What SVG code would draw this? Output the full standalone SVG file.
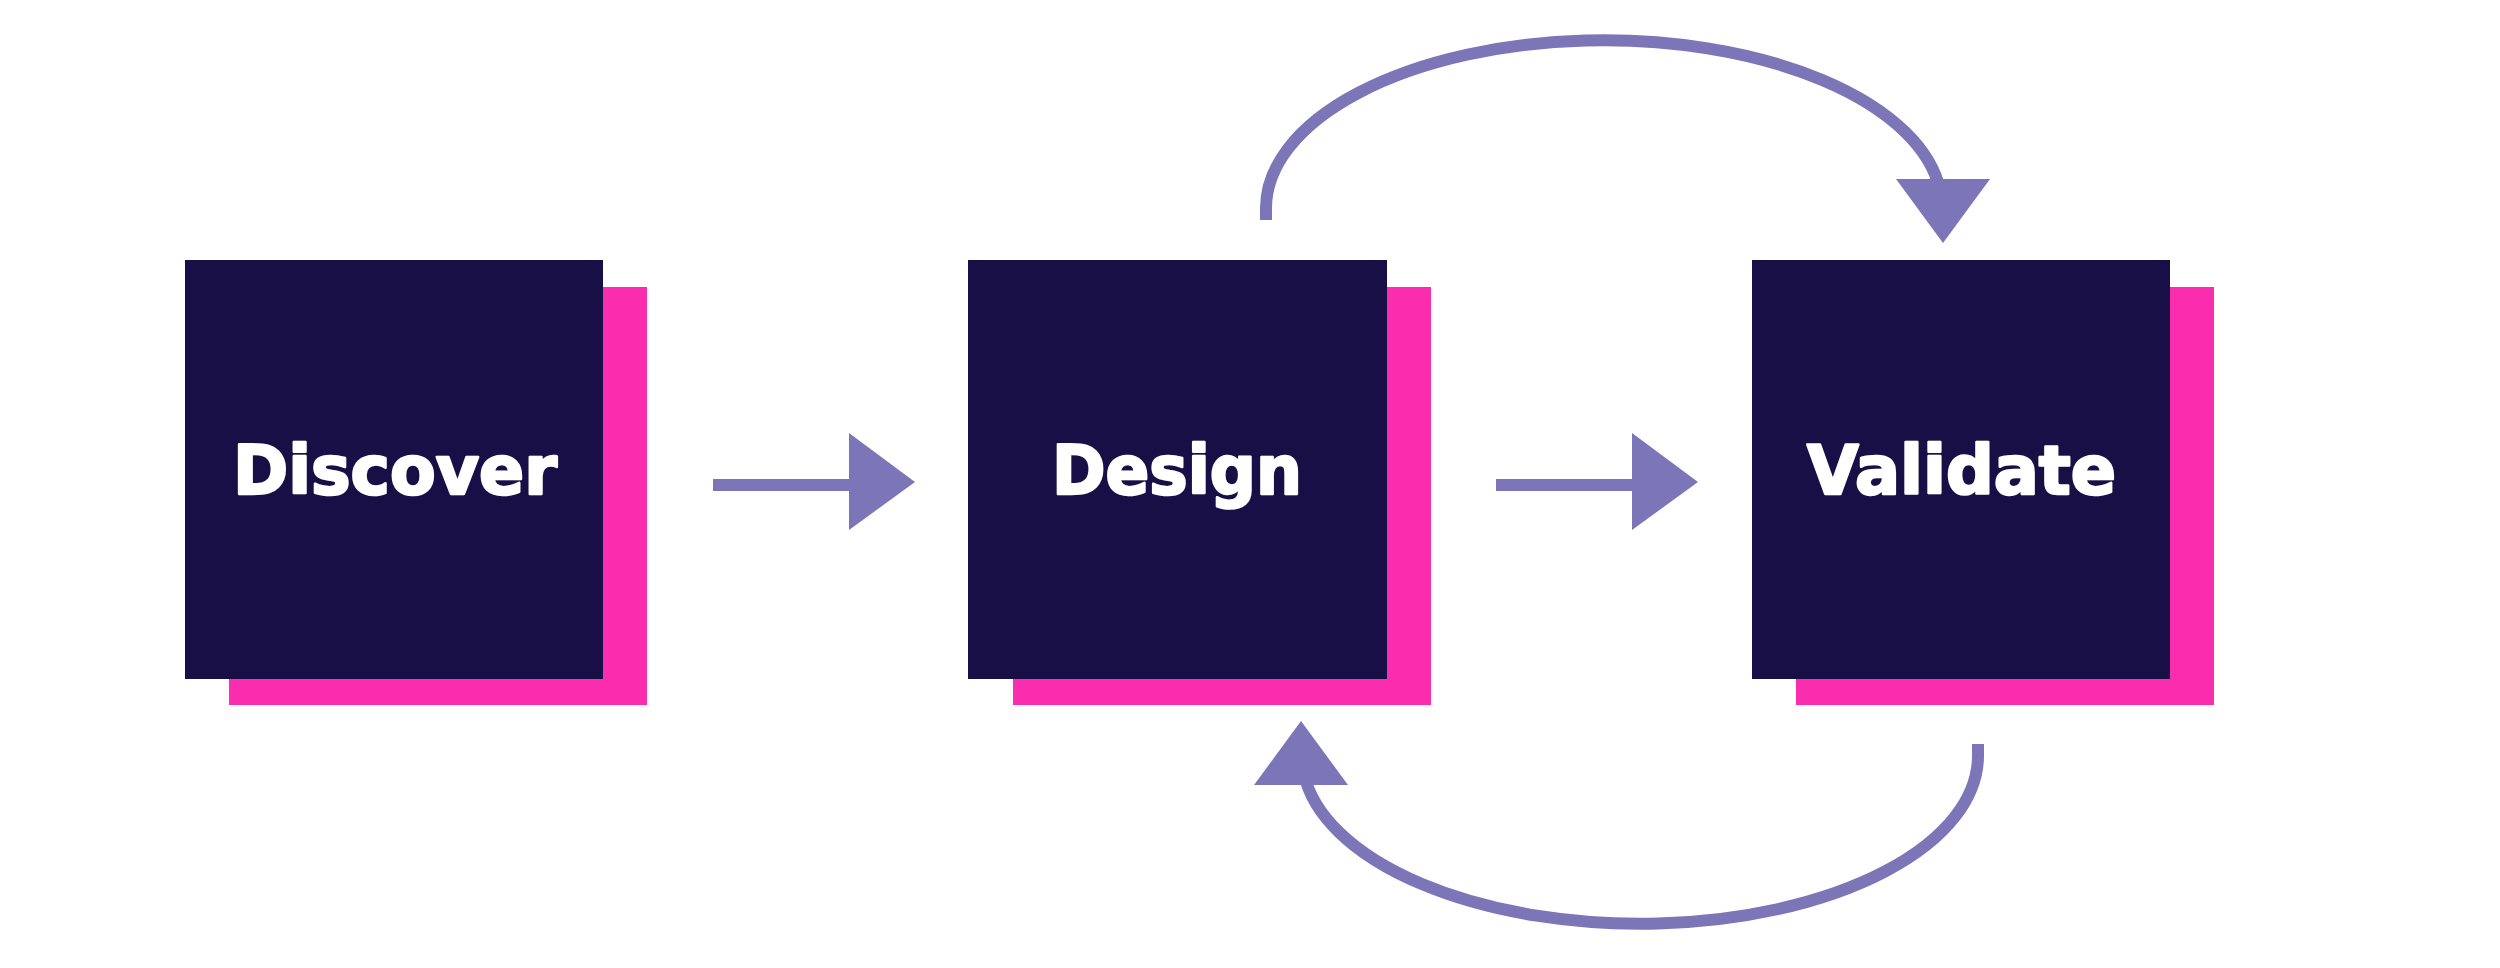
<svg xmlns="http://www.w3.org/2000/svg" width="2500" height="968" viewBox="0 0 2500 968">
  <style>
    .shadow { fill: #F92DAE; }
    .box { fill: #180F47; }
    .label { fill: #FFFFFF; stroke: #FFFFFF; stroke-width: 2.5; stroke-linejoin: round; font-family: "DejaVu Sans", "Liberation Sans", Arial, sans-serif; font-weight: bold; font-size: 67px; }
    .arc { fill: none; stroke: #7C75B7; stroke-width: 12; }
    .head { fill: #7C75B7; }
  </style>
  <rect width="2500" height="968" fill="#FFFFFF"/>
  <g id="node-discover">
    <rect class="shadow" x="229" y="287" width="418" height="418"/>
    <rect class="box" x="185" y="260" width="418" height="419"/>
    <text class="label" x="233" y="494" textLength="324" lengthAdjust="spacingAndGlyphs">Discover</text>
  </g>
  <g id="node-design">
    <rect class="shadow" x="1013" y="287" width="418" height="418"/>
    <rect class="box" x="968" y="260" width="419" height="419"/>
    <text class="label" x="1052" y="494" textLength="250" lengthAdjust="spacingAndGlyphs">Design</text>
  </g>
  <g id="node-validate">
    <rect class="shadow" x="1796" y="287" width="418" height="418"/>
    <rect class="box" x="1752" y="260" width="418" height="419"/>
    <text class="label" x="1807" y="494" textLength="309" lengthAdjust="spacingAndGlyphs">Validate</text>
  </g>
  <g id="connectors">
    <rect class="head" x="713" y="479" width="140" height="12"/>
    <polygon class="head" points="849,433 915,482 849,530"/>
    <rect class="head" x="1496" y="479" width="140" height="12"/>
    <polygon class="head" points="1632,433 1698,482 1632,530"/>
    <path class="arc" d="M1266,220 L1266,208 A338,168 0 0 1 1940,190"/>
    <polygon class="head" points="1896,179 1990,179 1943,243"/>
    <path class="arc" d="M1978,744 L1978,756 A338,168 0 0 1 1304,774"/>
    <polygon class="head" points="1348,785 1254,785 1301,721"/>
  </g>
</svg>
